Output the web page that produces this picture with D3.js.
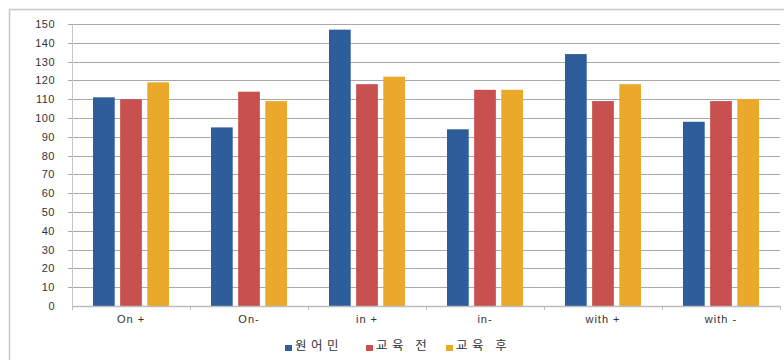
<!DOCTYPE html>
<meta charset="utf-8">
<style>
  body { margin: 0; background: #fff; }
  text { font-family: "Liberation Sans", Arial, sans-serif; }
</style>
<body>
<div id="chart"></div>
<script src="https://d3js.org/d3.v7.min.js"></script>
<script>
  var categories = ["On +", "On-", "in +", "in-", "with +", "with -"];
  var seriesNames = ["원어민", "교육 전", "교육 후"];
  var native = [111, 95, 147, 94, 134, 98];
  var before = [110, 114, 118, 115, 109, 109];
  var after = [119, 109, 122, 115, 118, 110];
  var yTicks = [0, 10, 20, 30, 40, 50, 60, 70, 80, 90, 100, 110, 120, 130, 140, 150];
  var colors = ["#2e5d9c", "#c8504e", "#eaa92a"];

  var series = [native, before, after];

  var W = 784, H = 360;
  var margin = { top: 24, right: 4, bottom: 54, left: 72 },
    width = W - margin.left - margin.right,
    height = H - margin.top - margin.bottom;

  var svg = d3.select("#chart").append("svg")
    .attr("width", W)
    .attr("height", H);

  // outer frame
  svg.append("rect")
    .attr("x", 9.5).attr("y", 9.5)
    .attr("width", W + 20).attr("height", H + 20)
    .attr("fill", "none")
    .attr("stroke", "#c8c8c8")
    .attr("stroke-width", 1.5);

  var g = svg.append("g")
    .attr("transform", "translate(" + margin.left + "," + margin.top + ")");

  var x = d3.scaleBand().domain(categories).range([0, width]);
  var x1 = d3.scaleBand().domain(d3.range(3)).range([21, 97]).paddingInner(0.2);
  var y = d3.scaleLinear().domain([0, 150]).range([height, 0]);

  // gridlines
  g.append("g")
    .selectAll("line")
    .data(yTicks.slice(1))
    .join("line")
    .attr("x1", -4).attr("x2", width)
    .attr("y1", function(d) { return Math.round(y(d)) + 0.5; })
    .attr("y2", function(d) { return Math.round(y(d)) + 0.5; })
    .attr("stroke", "#a9a9a9");

  // y labels
  var yAxis = d3.axisLeft(y).tickValues(yTicks).tickSize(0).tickPadding(17);
  var ya = g.append("g").call(yAxis);
  ya.select(".domain").attr("stroke", "#c8c8c8");
  ya.selectAll("text")
    .attr("font-size", 11)
    .attr("fill", "#333")
    .style("letter-spacing", "0.5px");

  // bars
  categories.forEach(function(c, i) {
    series.forEach(function(s, k) {
      g.append("rect")
        .attr("x", x(c) + x1(k))
        .attr("y", y(s[i]))
        .attr("width", x1.bandwidth())
        .attr("height", height - y(s[i]))
        .attr("fill", colors[k]);
    });
  });

  // x axis
  var xAxis = d3.axisBottom(x).tickSize(0).tickPadding(9);
  var xa = g.append("g")
    .attr("transform", "translate(0," + height + ")")
    .call(xAxis);
  xa.select(".domain").attr("stroke", "#bdbdbd").attr("stroke-width", 1.5);
  xa.selectAll("text")
    .attr("font-size", 11)
    .attr("fill", "#333")
    .style("letter-spacing", "1px");

  // boundary ticks
  g.append("g")
    .selectAll("line")
    .data(d3.range(categories.length + 1))
    .join("line")
    .attr("x1", function(d) { return d * x.step() + 0.5; })
    .attr("x2", function(d) { return d * x.step() + 0.5; })
    .attr("y1", height).attr("y2", height + 4)
    .attr("stroke", "#bdbdbd");

  // legend
  var legX = [285, 366, 446];
  var leg = svg.append("g");
  seriesNames.forEach(function(n, k) {
    leg.append("rect")
      .attr("x", legX[k]).attr("y", 345)
      .attr("width", 7).attr("height", 6)
      .attr("fill", colors[k]);
    leg.append("text")
      .attr("x", legX[k] + 10).attr("y", 350)
      .attr("font-size", 12.5)
      .attr("fill", "#333")
      .style("font-family", "'Noto Sans CJK KR', sans-serif")
      .style("letter-spacing", "4.5px")
      .text(n);
  });
</script>
</body>
